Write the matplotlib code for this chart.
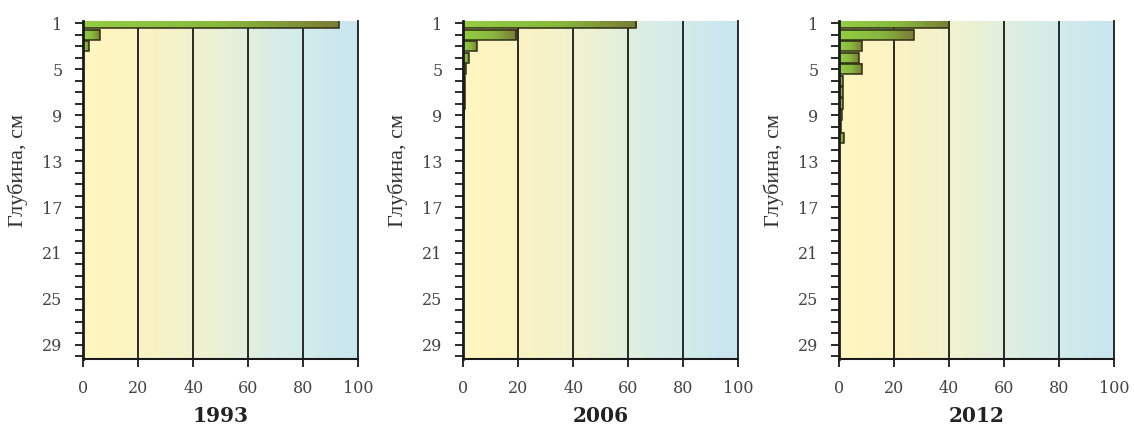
import numpy as np
import matplotlib
matplotlib.use("Agg")
from matplotlib import pyplot as plt
from matplotlib.colors import LinearSegmentedColormap

depth = list(range(1, 31))
years = ['1993', '2006', '2012']

share_1993 = [93, 5.9, 1.9, 0, 0, 0, 0, 0, 0, 0,
              0, 0, 0, 0, 0, 0, 0, 0, 0, 0,
              0, 0, 0, 0, 0, 0, 0, 0, 0, 0]
share_2006 = [63, 19.3, 4.9, 2.0, 0.9, 0.7, 0.6, 0.5, 0.4, 0,
              0, 0, 0, 0, 0, 0, 0, 0, 0, 0,
              0, 0, 0, 0, 0, 0, 0, 0, 0, 0]
share_2012 = [40, 27.3, 8.3, 7.1, 8.3, 1.3, 1.3, 1.3, 0.9, 0.6,
              1.6, 0, 0, 0, 0, 0, 0, 0, 0, 0,
              0, 0, 0, 0, 0, 0, 0, 0, 0, 0]
all_shares = [share_1993, share_2006, share_2012]

x_ticks = [0, 20, 40, 60, 80, 100]
y_labels = [1, 5, 9, 13, 17, 21, 25, 29]

bg_cmap = LinearSegmentedColormap.from_list(
    'bg', [(0.0, '#fff6c0'), (0.2, '#fbf3c2'), (0.45, '#eef2d2'),
           (0.7, '#d8ede6'), (1.0, '#c8e6f1')])
bar_cmap = LinearSegmentedColormap.from_list(
    'bar', [(0.0, '#94cd44'), (0.55, '#88b83e'), (1.0, '#7a7c36')])

fig = plt.figure(figsize=(11.34, 4.28), dpi=100)
lefts = [0.0735, 0.4086, 0.7401]
ylo, yhi = 30.25, 0.86
grad = np.linspace(0, 1, 256).reshape(1, -1)

for left, year, vals in zip(lefts, years, all_shares):
    ax = fig.add_axes([left, 0.1605, 0.2422, 0.7893])
    ax.imshow(grad, extent=[0, 100, ylo, yhi], cmap=bg_cmap, aspect='auto', zorder=0)
    for g in [20, 40, 60, 80]:
        ax.axvline(g, color='#1a1a1a', lw=1.3, zorder=1)
    for d, v in zip(depth, vals):
        if v <= 0:
            continue
        ax.imshow(grad, extent=[0, v, d + 0.44, d - 0.44], cmap=bar_cmap,
                  aspect='auto', zorder=2)
    ax.barh(depth, vals, height=0.88, fill=False, edgecolor='#2e2e14', lw=1.1, zorder=3)

    ax.set_xlim(0, 100)
    ax.set_ylim(ylo, yhi)
    ax.spines['top'].set_visible(False)
    ax.spines['left'].set_linewidth(2)
    ax.spines['bottom'].set_linewidth(1.5)
    ax.spines['right'].set_linewidth(1.3)
    for s in ['left', 'bottom', 'right']:
        ax.spines[s].set_color('#1a1a1a')
        ax.spines[s].set_zorder(4)

    ax.set_xticks(x_ticks)
    ax.set_xticklabels([str(t) for t in x_ticks], fontsize=11.5,
                       family='DejaVu Serif', color='#454545')
    ax.set_yticks(depth)
    ax.set_yticklabels([str(d) if d in y_labels else '' for d in depth],
                       fontsize=11.5, family='DejaVu Serif', color='#454545')
    ax.tick_params(axis='both', direction='out', length=6, width=1.3, color='#1a1a1a')
    ax.tick_params(axis='x', pad=9)
    ax.tick_params(axis='y', pad=9)

    ax.set_ylabel('Глубина, см', fontsize=16, family='Liberation Serif', color='#333333')
    ax.yaxis.set_label_coords(-0.2, 0.56)
    fig.text(left + 0.2422 / 2, 0.028, year, fontsize=14.5, family='DejaVu Serif',
             fontweight='bold', color='#222222', ha='center', va='center')

fig.savefig('out.png', dpi=100)
